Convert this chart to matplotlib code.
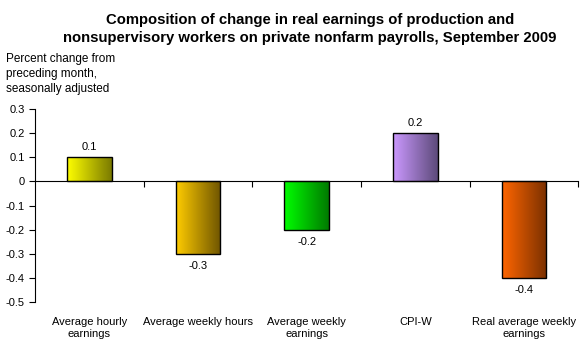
import matplotlib.pyplot as plt
import matplotlib.colors as mcolors
import numpy as np

plt.rcParams['font.family'] = ['Liberation Sans', 'DejaVu Sans']

categories = ['Average hourly\nearnings', 'Average weekly hours', 'Average weekly\nearnings',
              'CPI-W', 'Real average weekly\nearnings']
values = [0.1, -0.3, -0.2, 0.2, -0.4]
light = ['#FFFF00', '#FFCC00', '#00FF00', '#CC99FF', '#FF6600']
dark = ['#7A7A00', '#6E5400', '#007A00', '#5C4A7A', '#7A3000']

fig = plt.figure(figsize=(5.8, 3.6), dpi=100)
ax = fig.add_axes([0.0603, 0.161, 0.937, 0.536])

x = np.arange(len(categories))
width = 0.41
bars = ax.bar(x, values, width=width, facecolor='none', edgecolor='black', linewidth=1, zorder=3)

# horizontal gradient inside each bar
for bar, c1, c2 in zip(bars, light, dark):
    cmap = mcolors.LinearSegmentedColormap.from_list('g', [c1, c2])
    x0, y0 = bar.get_x(), bar.get_y()
    w, h = bar.get_width(), bar.get_height()
    grad = np.linspace(0, 1, 256).reshape(1, -1)
    im = ax.imshow(grad, cmap=cmap, aspect='auto', zorder=2,
                   extent=[x0, x0 + w, min(y0, y0 + h), max(y0, y0 + h)])
    im.set_clip_path(bar)

for xi, v in zip(x, values):
    if v >= 0:
        ax.text(xi, v + 0.02, f'{v:g}', ha='center', va='bottom', fontsize=8)
    else:
        ax.text(xi, v - 0.03, f'{v:g}', ha='center', va='top', fontsize=8)

ax.set_xlim(-0.5, len(categories) - 0.5)
ax.set_ylim(-0.5, 0.3)
ax.set_yticks(np.arange(-0.5, 0.31, 0.1))
ax.set_yticklabels([f'{t:g}' if abs(t) > 1e-9 else '0' for t in np.arange(-0.5, 0.31, 0.1)])
ax.tick_params(axis='y', direction='out', length=4, labelsize=8)

ax.spines['top'].set_visible(False)
ax.spines['right'].set_visible(False)
ax.spines['bottom'].set_position(('data', 0))
ax.spines['bottom'].set_zorder(4)
ax.set_xticks(np.arange(0.5, len(categories), 1))
ax.set_xticklabels([])
ax.tick_params(axis='x', direction='out', length=4)

for xi, lab in zip(x, categories):
    ax.text(xi, -0.56, lab, ha='center', va='top', fontsize=8, linespacing=1.35)

fig.text(0.534, 0.965, 'Composition of change in real earnings of production and\n'
         'nonsupervisory workers on private nonfarm payrolls, September 2009',
         ha='center', va='top', fontsize=10.7, fontweight='bold', linespacing=1.4)
fig.text(0.01, 0.853, 'Percent change from\npreceding month,\nseasonally adjusted',
         ha='left', va='top', fontsize=8.5, linespacing=1.35)

fig.savefig('out.png', dpi=100)
